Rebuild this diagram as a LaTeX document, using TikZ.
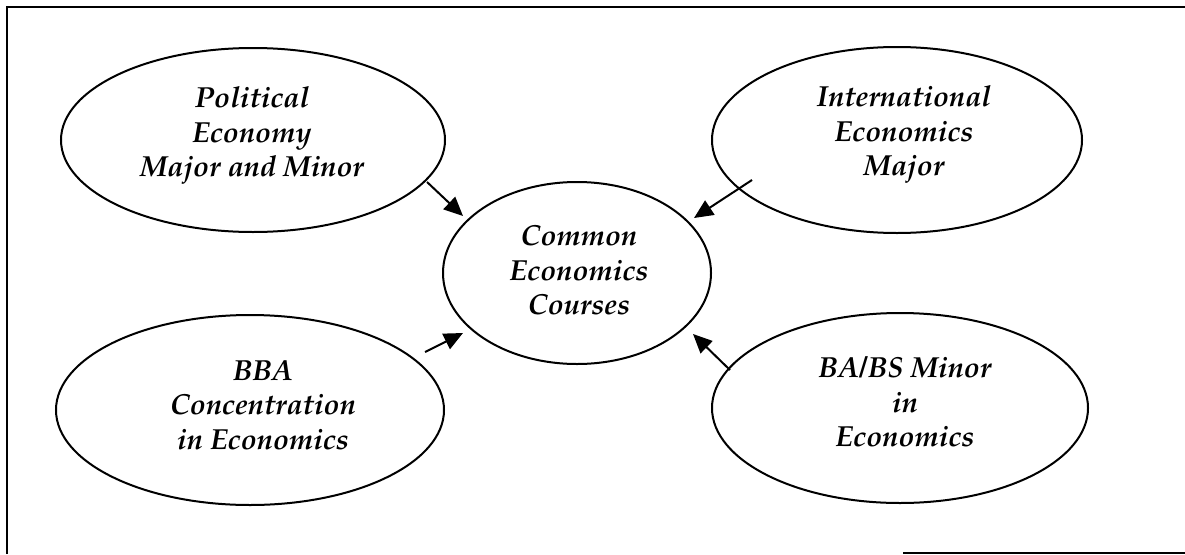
\documentclass[tikz,border=0pt]{standalone}
\usepackage[T1]{fontenc}
\renewcommand{\rmdefault}{ppl}
\usetikzlibrary{shapes.geometric,arrows.meta}
\begin{document}
\begin{tikzpicture}[x=1pt,y=-1pt,
  oval/.style={draw,line width=2pt},
  lbl/.style={align=center,font=\fontsize{29}{34.5}\selectfont\itshape\bfseries},
  arr/.style={line width=2pt,-{Triangle[length=19pt,width=17pt]}}]
\useasboundingbox (0,0) rectangle (1185,554);
\draw[line width=2pt] (7,554) -- (7,7) -- (1185,7);
\draw[line width=2pt] (903,553) -- (1185,553);
\draw[oval] (253,140) ellipse [x radius=192,y radius=92];
\node[lbl] (pe) at (252,136) {Political\\Economy\\Major and Minor};
\draw[oval] (897,140) ellipse [x radius=185,y radius=93];
\node[lbl] (ie) at (904,135) {International\\Economics\\Major};
\draw[oval] (577,273) ellipse [x radius=134,y radius=91];
\node[lbl] (ce) at (579,270) {Common\\Economics\\Courses};
\draw[oval] (250,410) ellipse [x radius=194,y radius=95];
\node[lbl] (bba) at (263,405) {BBA\\Concentration\\in Economics};
\draw[oval] (900,408) ellipse [x radius=188,y radius=95];
\node[lbl] (ba) at (905,402) {BA/BS Minor\\in\\Economics};
\coordinate (a1) at (427,182); \coordinate (t1) at (463,216);
\coordinate (a2) at (752,180); \coordinate (t2) at (694,218);
\coordinate (a3) at (425,352); \coordinate (t3) at (463,333);
\coordinate (a4) at (730,370); \coordinate (t4) at (693,334);
\draw[arr] (a1) -- (t1);
\draw[arr] (a2) -- (t2);
\draw[arr] (a3) -- (t3);
\draw[arr] (a4) -- (t4);
\end{tikzpicture}
\end{document}
